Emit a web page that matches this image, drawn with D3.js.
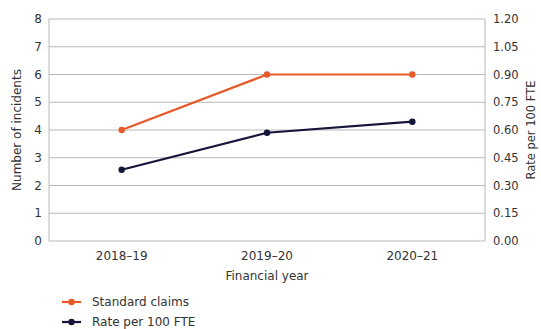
<!DOCTYPE html>
<html><head><meta charset="utf-8">
<script src="https://cdn.jsdelivr.net/npm/d3@7"></script>
<style>body{margin:0;background:#fff}svg{font-family:"DejaVu Sans",sans-serif}</style>
</head><body><svg id="c" width="541" height="329"></svg>
<script>
const categories = ["2018\u201319","2019\u201320","2020\u201321"];
const standardClaims = [4,6,6];
const ratePer100 = [0.385,0.585,0.645];
const leftTicks = [0,1,2,3,4,5,6,7,8];
const rightTicks = [0,0.15,0.30,0.45,0.60,0.75,0.90,1.05,1.20];

const svg = d3.select("#c");
const L=49, R=485, T=19, B=241;
const x = d3.scalePoint().domain(categories).range([L,R]).padding(0.5);
const yL = d3.scaleLinear().domain([0,8]).range([B,T]);
const yR = d3.scaleLinear().domain([0,1.2]).range([B,T]);
const grid="#b8b8b8", txt="#333", orange="#E8592A", navy="#15163A";
const fs=12;

svg.append("g").selectAll("line").data(leftTicks).join("line")
 .attr("x1",L).attr("x2",R).attr("y1",d=>yL(d)).attr("y2",d=>yL(d))
 .attr("stroke",grid).attr("stroke-width",1);
svg.append("line").attr("x1",L).attr("x2",L).attr("y1",T).attr("y2",B).attr("stroke",grid);
svg.append("line").attr("x1",R).attr("x2",R).attr("y1",T).attr("y2",B).attr("stroke",grid);

svg.append("g").selectAll("text").data(leftTicks).join("text")
 .attr("x",42).attr("y",d=>yL(d)).attr("dy","0.35em").attr("text-anchor","end")
 .attr("font-size",fs).attr("fill",txt).text(d=>d);
svg.append("g").selectAll("text").data(rightTicks).join("text")
 .attr("x",493).attr("y",d=>yR(d)).attr("dy","0.35em").attr("text-anchor","start")
 .attr("font-size",fs-0.5).attr("fill",txt).text(d=>d.toFixed(2));
svg.append("g").selectAll("text").data(categories).join("text")
 .attr("x",d=>x(d)).attr("y",260).attr("text-anchor","middle")
 .attr("font-size",fs).attr("fill",txt).text(d=>d);

svg.append("text").attr("transform",`translate(21,${(T+B)/2}) rotate(-90)`)
 .attr("text-anchor","middle").attr("font-size",fs).attr("fill",txt).text("Number of incidents");
svg.append("text").attr("transform",`translate(535,${(T+B)/2}) rotate(-90)`)
 .attr("text-anchor","middle").attr("font-size",fs-0.5).attr("fill",txt).text("Rate per 100 FTE");
svg.append("text").attr("x",267).attr("y",280).attr("text-anchor","middle")
 .attr("font-size",fs).attr("fill",txt).text("Financial year");

function series(vals, y, col){
  const line=d3.line().x((d,i)=>x(categories[i])).y(d=>y(d));
  svg.append("path").datum(vals).attr("d",line).attr("fill","none").attr("stroke",col).attr("stroke-width",2.2);
  svg.append("g").selectAll("circle").data(vals).join("circle")
   .attr("cx",(d,i)=>x(categories[i])).attr("cy",d=>y(d)).attr("r",3.2).attr("fill",col);
}
series(standardClaims,yL,orange);
series(ratePer100,yR,navy);

const leg=[["Standard claims",orange],["Rate per 100 FTE",navy]];
leg.forEach((l,i)=>{
  const yy=302+i*20;
  svg.append("line").attr("x1",62).attr("x2",81).attr("y1",yy).attr("y2",yy).attr("stroke",l[1]).attr("stroke-width",2.2);
  svg.append("circle").attr("cx",71.5).attr("cy",yy).attr("r",3.2).attr("fill",l[1]);
  svg.append("text").attr("x",92).attr("y",yy).attr("dy","0.35em").attr("font-size",fs).attr("fill",txt).text(l[0]);
});
</script></body></html>
